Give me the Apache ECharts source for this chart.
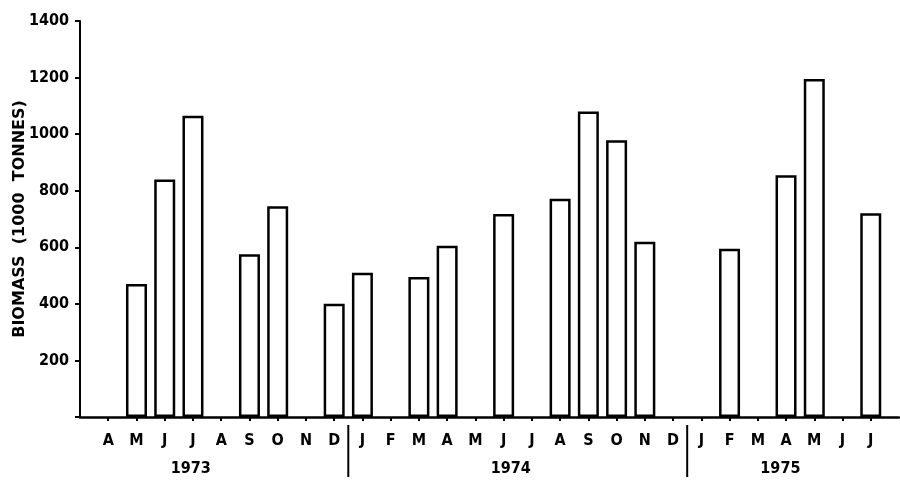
<!DOCTYPE html>
<html>
<head>
<meta charset="utf-8">
<script src="https://cdn.jsdelivr.net/npm/echarts@6/dist/echarts.min.js"></script>
<style>
  html, body { margin: 0; padding: 0; background: #fff; }
  #chart { width: 900px; height: 489px; }
</style>
</head>
<body>
<div id="chart"></div>
<script>
// Monthly biomass, April 1973 to July 1975 (1000 tonnes); null = no survey
const months = ['A','M','J','J','A','S','O','N','D',
                'J','F','M','A','M','J','J','A','S','O','N','D',
                'J','F','M','A','M','J','J'];
const biomass = [null, 470, 840, 1065, null, 575, 745, null, 400,
                 510, null, 495, 605, null, 718, null, 772, 1080, 978, 620, null,
                 null, 595, null, 855, 1195, null, 720];
const yTicks = [0, 200, 400, 600, 800, 1000, 1200, 1400];
const years = ['1973', '1974', '1975'];
// year label centres and year dividers, in month-index units (0 = Apr 1973)
const yearPos = [2.92, 14.25, 23.8];
const yearBreaks = [8.5, 20.5];

const FONT = 'DejaVu Sans Condensed';

// one blank slot either side of the months keeps the axis span
const cats = [''].concat(months, ['']);
const barData = [null].concat(biomass, [null]);

const chart = echarts.init(document.getElementById('chart'), null, { renderer: 'canvas' });

chart.setOption({
  animation: false,
  backgroundColor: '#fff',
  grid: { left: 80, right: 1, top: 21, bottom: 72, containLabel: false, outerBoundsMode: 'none' },
  xAxis: [
    {
      type: 'category',
      data: cats,
      boundaryGap: false,
      axisLine: { onZero: false, lineStyle: { color: '#000', width: 2.5 } },
      axisTick: {
        show: true, inside: false, length: 4, alignWithLabel: true,
        interval: (i) => i > 0 && i < cats.length - 1,
        lineStyle: { color: '#000', width: 2 }
      },
      axisLabel: {
        interval: 0, margin: 16,
        color: '#000', fontFamily: FONT, fontWeight: 'bold', fontSize: 16
      },
      splitLine: { show: false }
    },
    {
      type: 'value', min: -1, max: 28, show: false
    }
  ],
  yAxis: {
    type: 'value',
    min: yTicks[0], max: yTicks[yTicks.length - 1], interval: 200,
    name: 'BIOMASS  (1000  TONNES)',
    nameLocation: 'middle', nameRotate: 90, nameGap: 52, nameMoveOverlap: false,
    nameTextStyle: { color: '#000', fontFamily: 'DejaVu Sans', fontWeight: 'bold', fontSize: 16 },
    axisLine: { show: true, onZero: false, lineStyle: { color: '#000', width: 2 } },
    axisTick: { show: true, inside: false, length: 5, lineStyle: { color: '#000', width: 2 } },
    axisLabel: {
      margin: 11, color: '#000', fontFamily: FONT, fontWeight: 'bold', fontSize: 16,
      formatter: (v) => (v === 0 ? '' : String(v))
    },
    splitLine: { show: false }
  },
  series: [
    {
      type: 'bar',
      xAxisIndex: 0,
      data: barData,
      barWidth: 21,
      itemStyle: { color: '#fff', borderColor: '#000', borderWidth: 2.5 },
      z: 3
    },
    {
      // dividers between years, below the month letters
      type: 'custom',
      xAxisIndex: 1,
      clip: false,
      data: yearBreaks.map(x => [x, 0]),
      renderItem: (params, api) => {
        const p = api.coord([api.value(0), 0]);
        return {
          type: 'line',
          shape: { x1: p[0], y1: p[1] + 8, x2: p[0], y2: p[1] + 60 },
          style: { stroke: '#000', lineWidth: 2 }
        };
      }
    },
    {
      // year captions
      type: 'custom',
      xAxisIndex: 1,
      clip: false,
      data: yearPos.map((x, i) => [x, 0, i]),
      renderItem: (params, api) => {
        const p = api.coord([api.value(0), 0]);
        return {
          type: 'text',
          style: {
            text: years[api.value(2)],
            x: p[0], y: p[1] + 52,
            align: 'center', verticalAlign: 'middle',
            fill: '#000', fontFamily: FONT, fontWeight: 'bold', fontSize: 16
          }
        };
      }
    }
  ]
});
</script>
</body>
</html>
